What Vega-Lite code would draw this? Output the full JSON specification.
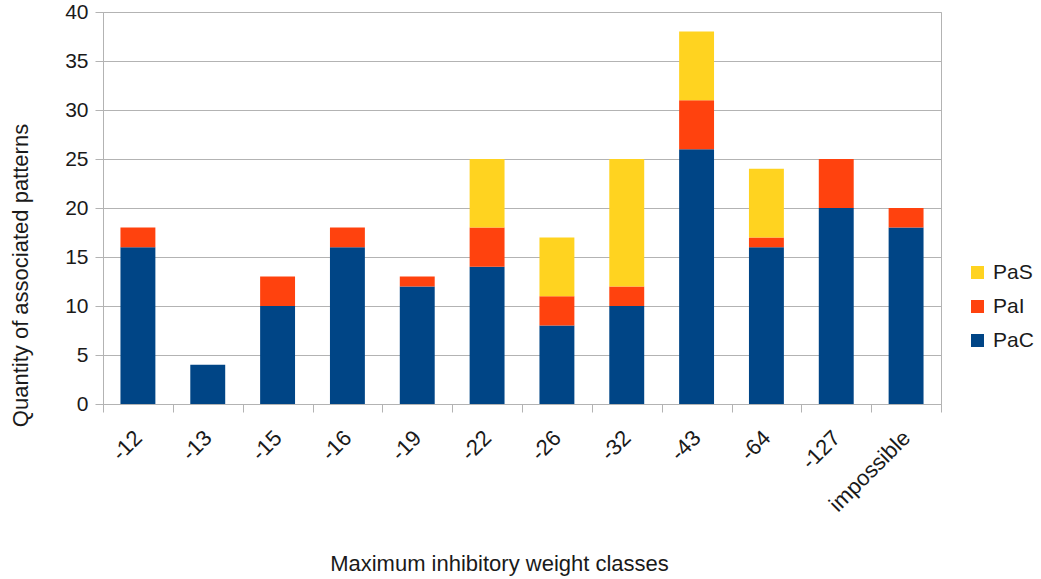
{
  "$schema": "https://vega.github.io/schema/vega-lite/v6.json",
  "autosize": "none",
  "width": 838,
  "height": 392,
  "padding": {"left": 103, "top": 12, "right": 100, "bottom": 175},
  "background": "white",
  "config": {
    "font": "Liberation Sans",
    "view": {"stroke": "#b3b3b3", "strokeWidth": 1}
  },
  "data": {
    "values": [
      {"cls": "-12", "type": "PaC", "n": 16}, {"cls": "-12", "type": "PaI", "n": 2},
      {"cls": "-13", "type": "PaC", "n": 4},
      {"cls": "-15", "type": "PaC", "n": 10}, {"cls": "-15", "type": "PaI", "n": 3},
      {"cls": "-16", "type": "PaC", "n": 16}, {"cls": "-16", "type": "PaI", "n": 2},
      {"cls": "-19", "type": "PaC", "n": 12}, {"cls": "-19", "type": "PaI", "n": 1},
      {"cls": "-22", "type": "PaC", "n": 14}, {"cls": "-22", "type": "PaI", "n": 4}, {"cls": "-22", "type": "PaS", "n": 7},
      {"cls": "-26", "type": "PaC", "n": 8}, {"cls": "-26", "type": "PaI", "n": 3}, {"cls": "-26", "type": "PaS", "n": 6},
      {"cls": "-32", "type": "PaC", "n": 10}, {"cls": "-32", "type": "PaI", "n": 2}, {"cls": "-32", "type": "PaS", "n": 13},
      {"cls": "-43", "type": "PaC", "n": 26}, {"cls": "-43", "type": "PaI", "n": 5}, {"cls": "-43", "type": "PaS", "n": 7},
      {"cls": "-64", "type": "PaC", "n": 16}, {"cls": "-64", "type": "PaI", "n": 1}, {"cls": "-64", "type": "PaS", "n": 7},
      {"cls": "-127", "type": "PaC", "n": 20}, {"cls": "-127", "type": "PaI", "n": 5},
      {"cls": "impossible", "type": "PaC", "n": 18}, {"cls": "impossible", "type": "PaI", "n": 2}
    ]
  },
  "mark": {"type": "bar", "width": {"band": 0.5}},
  "encoding": {
    "x": {
      "field": "cls", "type": "nominal", "sort": null,
      "scale": {"paddingInner": 0, "paddingOuter": 0},
      "axis": {
        "title": "Maximum inhibitory weight classes",
        "titleFontSize": 22, "titleFontWeight": "normal", "titleColor": "#1a1a1a",
        "titleX": 396, "titleY": 166, "titleAlign": "center", "titleBaseline": "alphabetic", "titleAnchor": null,
        "labelAngle": -45, "labelAlign": "right", "labelBaseline": "middle",
        "labelFontSize": 22, "labelColor": "#1a1a1a", "labelPadding": 22,
        "domainColor": "#b3b3b3", "tickColor": "#b3b3b3", "tickSize": 8, "tickBand": "extent"
      }
    },
    "y": {
      "field": "n", "type": "quantitative", "aggregate": "sum",
      "scale": {"domain": [0, 40]},
      "axis": {
        "title": "Quantity of associated patterns",
        "titleFontSize": 22, "titleFontWeight": "normal", "titleColor": "#1a1a1a",
        "titleX": -83, "titleY": 263, "titleAlign": "center", "titleBaseline": "middle", "titleAngle": -90, "titleAnchor": null,
        "values": [0, 5, 10, 15, 20, 25, 30, 35, 40],
        "labelFontSize": 21, "labelColor": "#1a1a1a", "labelPadding": 7,
        "gridColor": "#b3b3b3", "domainColor": "#b3b3b3", "tickColor": "#b3b3b3", "tickSize": 8
      }
    },
    "order": {"field": "type", "type": "nominal", "sort": "ascending"},
    "color": {
      "field": "type", "type": "nominal",
      "scale": {"domain": ["PaS", "PaI", "PaC"], "range": ["#ffd320", "#ff420e", "#004586"]},
      "legend": {
        "title": null, "orient": "none", "legendX": 864, "legendY": 250, "padding": 0,
        "symbolType": "square", "symbolSize": 169, "symbolStrokeWidth": 0,
        "labelFontSize": 21, "labelColor": "#1a1a1a", "rowPadding": 12, "labelOffset": 5
      }
    }
  }
}
